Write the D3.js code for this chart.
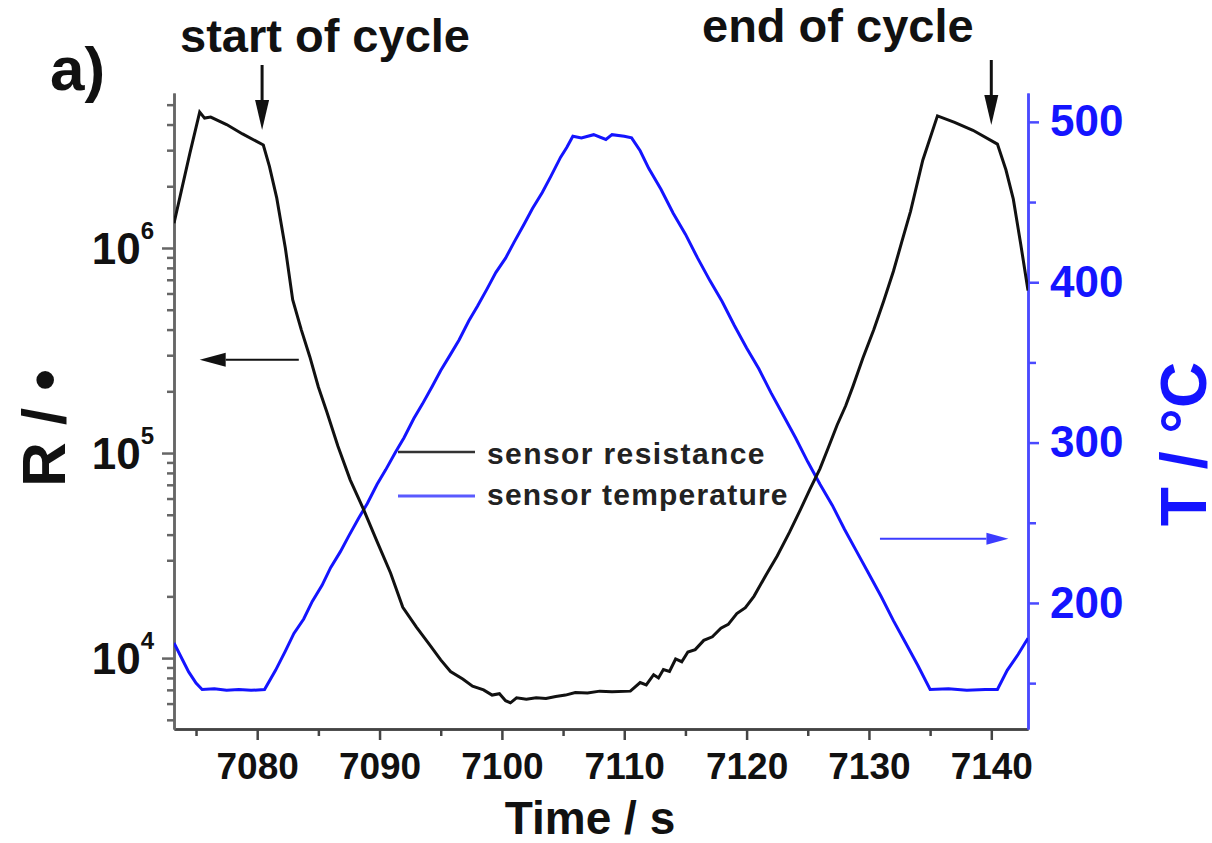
<!DOCTYPE html>
<html>
<head>
<meta charset="utf-8">
<script src="https://cdn.jsdelivr.net/npm/d3@7"></script>
<style>
  body { margin: 0; background: #fff; }
  svg text { font-family: "Liberation Sans", Arial, sans-serif; font-weight: bold; }
</style>
</head>
<body>
<div id="chart"></div>
<script>
// sensor temperature
var tempTime = [7073.2, 7073.8, 7074.4, 7075.0, 7075.5, 7076.5, 7077.5, 7078.5, 7079.5, 7080.6,
  7081.5, 7082.3, 7083.0, 7083.8, 7084.5, 7085.3, 7086.0, 7086.8, 7087.5, 7088.3,
  7089.0, 7089.8, 7090.5, 7091.3, 7092.0, 7092.8, 7093.5, 7094.3, 7095.0, 7095.8,
  7096.5, 7097.3, 7098.0, 7098.8, 7099.5, 7100.3, 7101.0, 7101.8, 7102.5, 7103.3,
  7104.0, 7104.8, 7105.3, 7105.8, 7106.5, 7107.5, 7108.5, 7109.0, 7110.0, 7110.6,
  7111.3, 7112.0, 7113.0, 7114.0, 7115.0, 7116.0, 7117.0, 7118.0, 7119.0, 7120.0,
  7121.0, 7122.0, 7123.0, 7124.0, 7125.0, 7126.0, 7127.0, 7128.0, 7129.0, 7130.0,
  7131.0, 7132.0, 7133.0, 7134.0, 7135.0, 7136.5, 7138.0, 7139.5, 7140.5, 7141.3,
  7142.2, 7143.0];
var tempVal = [175, 166, 157, 150, 146, 146.5, 145.5, 146, 145.5, 146,
  158, 170, 181, 190, 201, 211, 222, 232, 242, 253,
  262, 274, 283, 294, 303, 315, 324, 335, 345, 355,
  364, 376, 385, 396, 406, 415, 425, 436, 446, 456,
  466, 478, 484, 491, 490, 492, 489, 492, 491, 490,
  482, 471, 458, 443, 430, 415, 401, 388, 373, 359,
  346, 331, 317, 303, 288, 274, 261, 246, 232, 218,
  204, 189, 175, 161, 146, 146.5, 145.5, 146, 146, 158,
  168, 178];

// sensor resistance (ohm)
var resTime = [7073.2, 7073.8, 7074.5, 7075.3, 7075.7, 7076.2, 7077.5, 7078.8, 7080.5, 7081.0,
  7081.6, 7082.3, 7082.9, 7083.6, 7084.3, 7085.0, 7085.7, 7086.6, 7087.6, 7088.7,
  7089.8, 7090.9, 7091.9, 7093.0, 7094.1, 7095.0, 7095.8, 7096.8, 7097.6, 7098.5,
  7099.2, 7099.8, 7100.3, 7100.7, 7101.2, 7102.0, 7102.8, 7103.6, 7104.4, 7105.2,
  7106.0, 7107.0, 7108.0, 7109.0, 7110.5, 7111.3, 7111.8, 7112.4, 7112.8, 7113.2,
  7113.7, 7114.2, 7114.7, 7115.2, 7115.8, 7116.5, 7117.2, 7117.9, 7118.5, 7119.2,
  7119.9, 7120.6, 7121.6, 7122.5, 7123.5, 7124.4, 7125.2, 7126.0,
  7126.7, 7127.4, 7128.1, 7128.7, 7129.5, 7130.4, 7131.2, 7132.0, 7132.7, 7133.4,
  7134.4, 7135.6, 7137.0, 7138.5, 7140.5, 7141.2, 7141.8, 7142.4, 7143.0];
var resVal = [1.32e6, 1.9e6, 2.9e6, 4.6e6, 4.3e6, 4.35e6, 4.0e6, 3.6e6, 3.18e6, 2.5e6,
  1.75e6, 1.0e6, 5.6e5, 4.0e5, 2.95e5, 2.1e5, 1.58e5, 1.08e5, 7.4e4, 5.3e4,
  3.7e4, 2.6e4, 1.77e4, 1.42e4, 1.16e4, 9.8e3, 8.6e3, 7.9e3, 7.3e3, 7.0e3,
  6.6e3, 6.7e3, 6.2e3, 6.05e3, 6.4e3, 6.3e3, 6.4e3, 6.35e3, 6.5e3, 6.6e3,
  6.8e3, 6.75e3, 6.9e3, 6.85e3, 6.9e3, 7.6e3, 7.4e3, 8.3e3, 8.0e3, 8.8e3,
  8.6e3, 9.9e3, 9.6e3, 1.07e4, 1.10e4, 1.22e4, 1.27e4, 1.40e4, 1.46e4, 1.65e4,
  1.76e4, 2.0e4, 2.55e4, 3.15e4, 4.1e4, 5.3e4, 6.7e4, 8.4e4,
  1.07e5, 1.37e5, 1.70e5, 2.12e5, 2.9e5, 4.0e5, 5.5e5, 7.7e5, 1.08e6, 1.51e6,
  2.68e6, 4.41e6, 4.1e6, 3.75e6, 3.21e6, 2.4e6, 1.73e6, 1.05e6, 6.2e5];

var timeTicks = [7080, 7090, 7100, 7110, 7120, 7130, 7140];
var timeMinor = [7075, 7085, 7095, 7105, 7115, 7125, 7135];
var resTicks = [1e4, 1e5, 1e6];
var tempTicks = [200, 300, 400, 500];
var tempMinor = [150, 250, 350, 450];

// annotations, in data units
var cycleStart = 7080.4, cycleEnd = 7140.0;
var leftArrow = {r: 2.85e5, t0: 7083.4, t1: 7075.3};
var rightArrow = {T: 240, t0: 7130.9, t1: 7141.4};

var blue = "#1414ff";
var W = 1212, H = 843;
var pl = 174, pr = 1028, pt = 93, pb = 729;

var svg = d3.select("#chart").append("svg").attr("width", W).attr("height", H);

var x = d3.scaleLinear().domain([7073.2, 7143.0]).range([pl, pr]);
var yR = d3.scaleLog().domain([4510, 5.70e6]).range([pb, pt]);
var yT = d3.scaleLinear().domain([121.4, 518]).range([pb, pt]);

// log minor ticks 2..9 per decade inside the domain
var resMinor = [];
[1e3, 1e4, 1e5, 1e6].forEach(function(d){
  for (var k = 2; k <= 9; k++) {
    var v = d * k;
    if (v >= yR.domain()[0] && v <= yR.domain()[1]) resMinor.push(v);
  }
});

svg.append("clipPath").attr("id", "plot")
  .append("rect").attr("x", pl).attr("y", pt).attr("width", pr - pl).attr("height", pb - pt);

// axes
var gx = svg.append("g").attr("transform", "translate(0," + pb + ")");
gx.append("g").call(d3.axisBottom(x).tickValues(timeMinor).tickSize(7).tickSizeOuter(0).tickFormat(""));
gx.append("g").call(d3.axisBottom(x).tickValues(timeTicks).tickSize(11).tickSizeOuter(0).tickPadding(13).tickFormat(d3.format("d")));
gx.selectAll("path, line").attr("stroke", "#444").attr("stroke-width", 2.5);
gx.selectAll("text").attr("font-size", 37).attr("fill", "#111");

var gl = svg.append("g").attr("transform", "translate(" + pl + ",0)");
gl.append("g").call(d3.axisLeft(yR).tickValues(resMinor).tickSize(7).tickSizeOuter(0).tickFormat(""));
gl.append("g").call(d3.axisLeft(yR).tickValues(resTicks).tickSize(12).tickSizeOuter(0).tickFormat(""));
gl.selectAll("path, line").attr("stroke", "#666").attr("stroke-width", 2.5);
var lbl = gl.selectAll(".rlab").data(resTicks).enter().append("text")
  .attr("class", "rlab")
  .attr("x", -20).attr("y", function(d){ return yR(d); })
  .attr("dy", "0.36em").attr("text-anchor", "end")
  .attr("font-size", 44).attr("fill", "#111");
lbl.append("tspan").text("10");
lbl.append("tspan").attr("font-size", 24).attr("dy", -25)
  .text(function(d){ return Math.round(Math.log10(d)); });

var gr = svg.append("g").attr("transform", "translate(" + pr + ",0)");
gr.append("g").call(d3.axisRight(yT).tickValues(tempMinor).tickSize(8).tickSizeOuter(0).tickFormat(""));
gr.append("g").call(d3.axisRight(yT).tickValues(tempTicks).tickSize(11).tickSizeOuter(0).tickPadding(11).tickFormat(d3.format("d")));
gr.selectAll("path, line").attr("stroke", "#4a4aff").attr("stroke-width", 2.5);
gr.selectAll("text").attr("font-size", 44).attr("fill", blue);

// curves
var tempData = tempTime.map(function(t, i){ return [t, tempVal[i]]; });
var resData = resTime.map(function(t, i){ return [t, resVal[i]]; });

svg.append("path").datum(tempData)
  .attr("clip-path", "url(#plot)")
  .attr("fill", "none").attr("stroke", blue).attr("stroke-width", 3)
  .attr("d", d3.line().x(function(d){ return x(d[0]); }).y(function(d){ return yT(d[1]); }));

svg.append("path").datum(resData)
  .attr("clip-path", "url(#plot)")
  .attr("fill", "none").attr("stroke", "#111").attr("stroke-width", 3)
  .attr("d", d3.line().x(function(d){ return x(d[0]); }).y(function(d){ return yR(d[1]); }));

// legend
var lg = svg.append("g");
lg.append("line").attr("x1", 398).attr("x2", 475).attr("y1", 452).attr("y2", 452)
  .attr("stroke", "#333").attr("stroke-width", 2.5);
lg.append("line").attr("x1", 398).attr("x2", 475).attr("y1", 496).attr("y2", 496)
  .attr("stroke", "#5a5aff").attr("stroke-width", 3);
lg.append("text").attr("x", 487).attr("y", 464).attr("font-size", 30).attr("fill", "#222")
  .attr("letter-spacing", 1.4).text("sensor resistance");
lg.append("text").attr("x", 487).attr("y", 505).attr("font-size", 30).attr("fill", "#222")
  .attr("letter-spacing", 1.2).text("sensor temperature");

// arrows
function arrow(x1, y1, x2, y2, color, w, head, half) {
  var a = Math.atan2(y2 - y1, x2 - x1);
  var bx = x2 - head * Math.cos(a), by = y2 - head * Math.sin(a);
  svg.append("line").attr("x1", x1).attr("y1", y1).attr("x2", bx).attr("y2", by)
    .attr("stroke", color).attr("stroke-width", w);
  var px = -Math.sin(a) * half, py = Math.cos(a) * half;
  svg.append("path")
    .attr("d", "M" + x2 + "," + y2 + "L" + (bx + px) + "," + (by + py) + "L" + (bx - px) + "," + (by - py) + "Z")
    .attr("fill", color);
}
arrow(x(cycleStart), 65, x(cycleStart), 130, "#111", 3, 30, 7);
arrow(x(cycleEnd), 60, x(cycleEnd), 125, "#111", 3, 30, 7);
arrow(x(leftArrow.t0), yR(leftArrow.r), x(leftArrow.t1), yR(leftArrow.r), "#111", 2, 26, 7);
arrow(x(rightArrow.t0), yT(rightArrow.T), x(rightArrow.t1), yT(rightArrow.T), "#3c3cff", 2, 22, 6);

// text labels
svg.append("text").attr("x", 50).attr("y", 90).attr("font-size", 62).attr("fill", "#111").text("a)");
svg.append("text").attr("x", 180).attr("y", 52).attr("font-size", 47).attr("fill", "#111").text("start of cycle");
svg.append("text").attr("x", 702).attr("y", 42).attr("font-size", 47).attr("fill", "#111").text("end of cycle");
svg.append("text").attr("x", 590).attr("y", 834).attr("text-anchor", "middle")
  .attr("font-size", 46).attr("fill", "#111").text("Time / s");
svg.append("text").attr("transform", "translate(65,428) rotate(-90)").attr("text-anchor", "middle")
  .attr("font-size", 62).attr("fill", "#111").text("R / •");
svg.append("text").attr("transform", "translate(1206,444) rotate(-90)").attr("text-anchor", "middle")
  .attr("font-size", 64).attr("fill", blue).text("T / °C");
</script>
</body>
</html>
